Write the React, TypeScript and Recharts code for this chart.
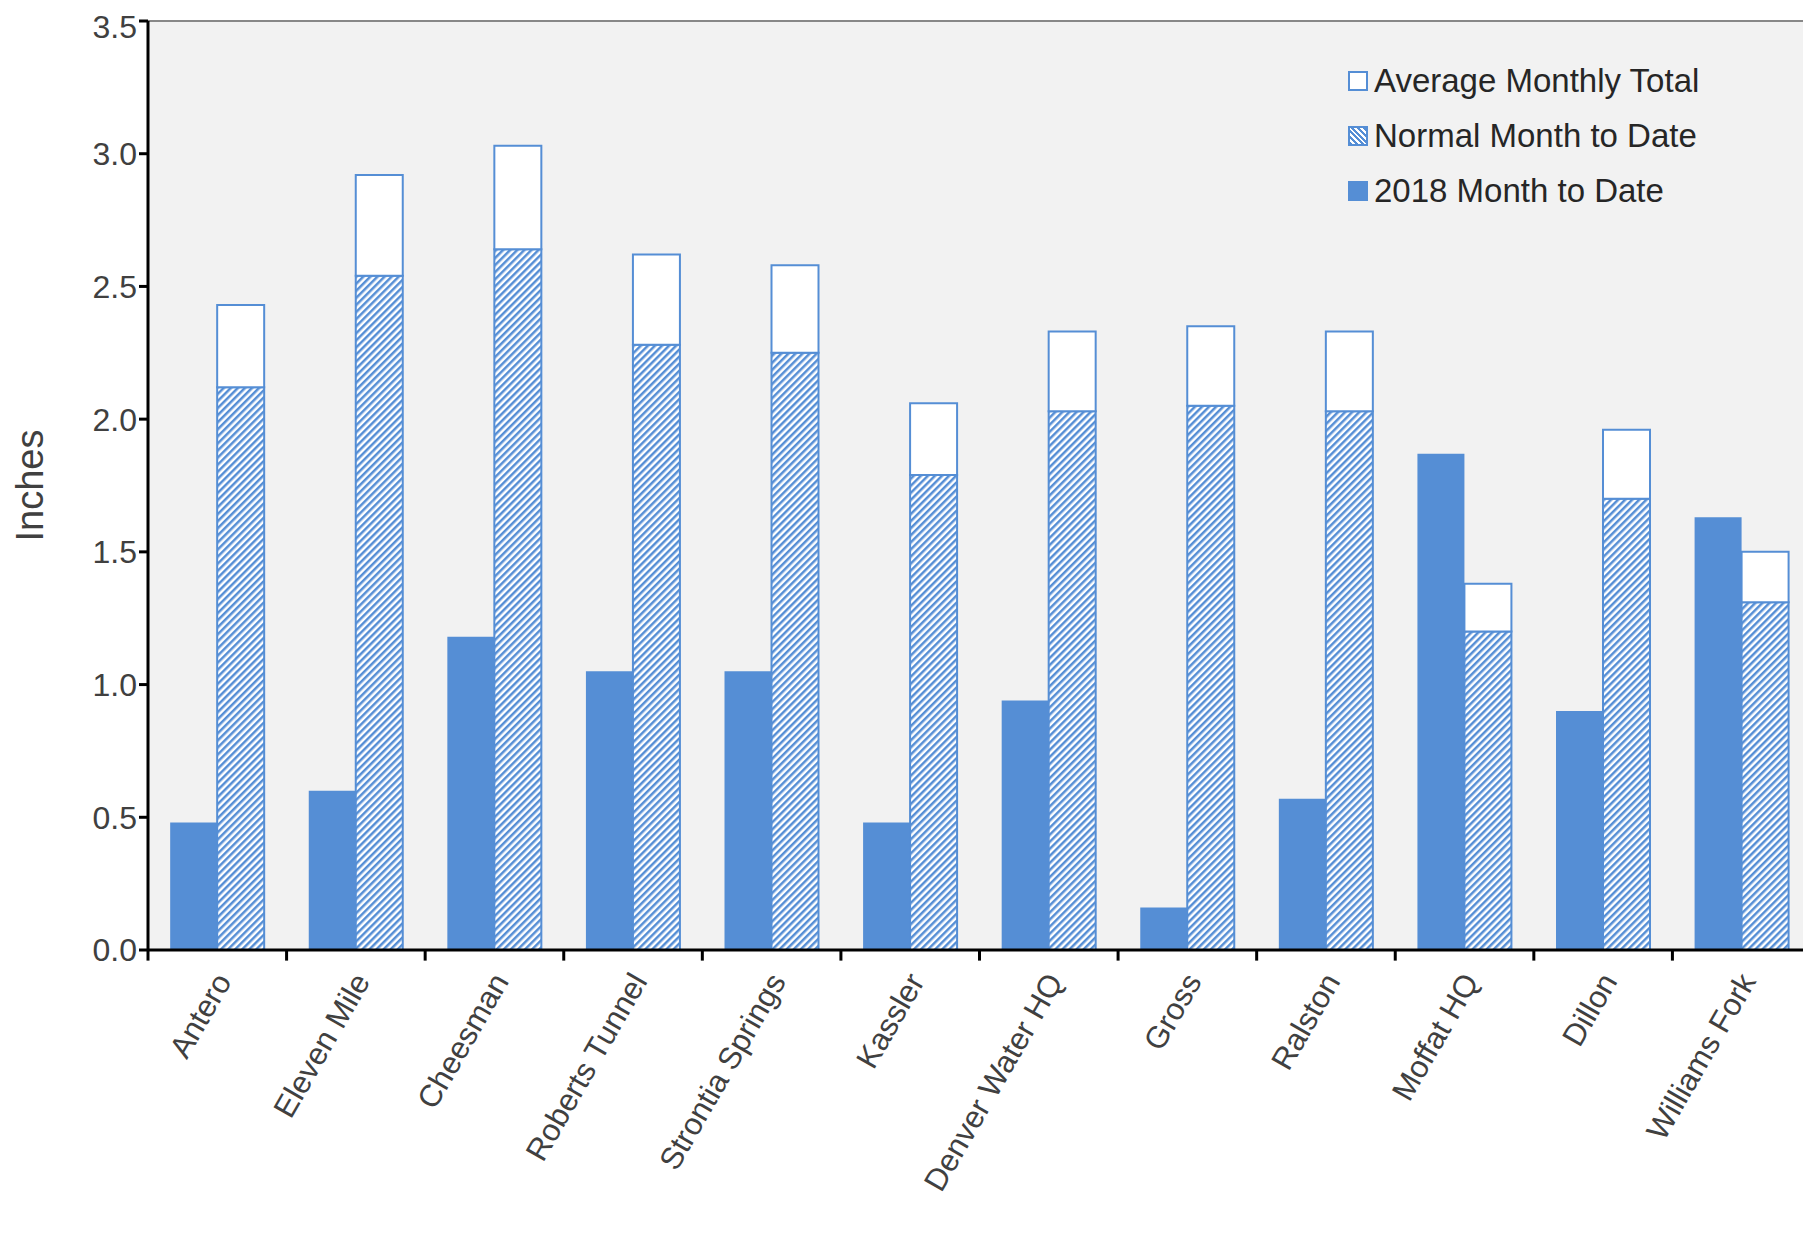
import React from "react";
import { BarChart, Bar, XAxis, YAxis, CartesianGrid, ReferenceLine } from "recharts";

const sites = ["Antero", "Eleven Mile", "Cheesman", "Roberts Tunnel", "Strontia Springs", "Kassler", "Denver Water HQ", "Gross", "Ralston", "Moffat HQ", "Dillon", "Williams Fork"];
const mtd2018 = [0.48, 0.6, 1.18, 1.05, 1.05, 0.48, 0.94, 0.16, 0.57, 1.87, 0.9, 1.63];
const normalMtd = [2.12, 2.54, 2.64, 2.28, 2.25, 1.79, 2.03, 2.05, 2.03, 1.2, 1.7, 1.31];
const avgTotal = [2.43, 2.92, 3.03, 2.62, 2.58, 2.06, 2.33, 2.35, 2.33, 1.38, 1.96, 1.5];
const yTicks = [0, 0.5, 1, 1.5, 2, 2.5, 3, 3.5];
const boundaryTicks = [0, 1, 2, 3, 4, 5, 6, 7, 8, 9, 10, 11, 12];

const BLUE = "#558ed5";
const FONT = "'Liberation Sans', Arial, sans-serif";

const data = sites.map((s, i) => ({
  name: s,
  idx: i + 0.5,
  mtd: mtd2018[i],
  normal: normalMtd[i],
  rest: +(avgTotal[i] - normalMtd[i]).toFixed(2),
}));

function SiteTick({ x, y, payload }: any) {
  return (
    <text x={x + 6} y={y + 18} transform={`rotate(-60 ${x + 6} ${y + 18})`} textAnchor="end" dominantBaseline="central"
      fontSize={31} fill="#404040" fontFamily={FONT}>
      {payload.value}
    </text>
  );
}

const legendItems = [
  { label: "Average Monthly Total", fill: "#fff" },
  { label: "Normal Month to Date", fill: `repeating-linear-gradient(45deg, ${BLUE} 0 2px, #fff 2px 4px)` },
  { label: "2018 Month to Date", fill: BLUE },
];

export default function App() {
  return (
    <div style={{ position: "relative", width: 1803, height: 1227, fontFamily: FONT }}>
      <svg width={0} height={0} style={{ position: "absolute" }}>
        <defs>
          <pattern id="hatch" width={5} height={5} patternUnits="userSpaceOnUse" patternTransform="rotate(45)">
            <rect width={5} height={5} fill="#fff" />
            <rect width={2.5} height={5} fill={BLUE} />
          </pattern>
        </defs>
      </svg>
      <BarChart width={1803} height={1227} data={data} margin={{ top: 13, right: 0, left: 60, bottom: 0 }}
        barCategoryGap="16%" barGap={0}>
        <CartesianGrid fill="#f2f2f2" horizontal={false} vertical={false} />
        <XAxis dataKey="name" xAxisId="cat" interval={0} height={285} tick={<SiteTick />}
          tickLine={false} axisLine={{ stroke: "#000", strokeWidth: 3 }} />
        <XAxis xAxisId="b" dataKey="idx" type="number" domain={[0, 12]} hide height={0} />
        <YAxis domain={[0, 3.5]} ticks={yTicks} tickFormatter={(v: number) => v.toFixed(1)} width={80}
          tick={{ fontSize: 32, fill: "#404040", fontFamily: FONT }} tickSize={9}
          tickLine={{ stroke: "#000", strokeWidth: 3 }} axisLine={{ stroke: "#000", strokeWidth: 3 }}
          label={{ value: "Inches", angle: -90, position: "insideLeft", offset: -38, fontSize: 38, fill: "#404040", fontFamily: FONT, style: { textAnchor: "middle" } }} />
        <ReferenceLine y={3.5} xAxisId="cat" stroke="#888" strokeWidth={2} />
        <Bar xAxisId="cat" dataKey="mtd" stackId="a" fill={BLUE} isAnimationActive={false} />
        <Bar xAxisId="cat" dataKey="normal" stackId="s" fill="url(#hatch)" stroke={BLUE} strokeWidth={2} isAnimationActive={false} />
        <Bar xAxisId="cat" dataKey="rest" stackId="s" fill="#fff" stroke={BLUE} strokeWidth={2} isAnimationActive={false} />
        {boundaryTicks.map((t) => (
          <ReferenceLine key={t} xAxisId="b" segment={[{ x: t, y: 0 }, { x: t, y: -0.04 }]} ifOverflow="visible"
            stroke="#000" strokeWidth={3} />
        ))}
      </BarChart>
      <div style={{ position: "absolute", left: 1340, top: 45 }}>
        {legendItems.map((it) => (
          <div key={it.label} style={{ display: "flex", alignItems: "center", height: 55, fontSize: 33, color: "#262626" }}>
            <span style={{ display: "inline-block", width: 16, height: 16, border: `2px solid ${BLUE}`, background: it.fill, marginRight: 6 }} />
            {it.label}
          </div>
        ))}
      </div>
    </div>
  );
}
